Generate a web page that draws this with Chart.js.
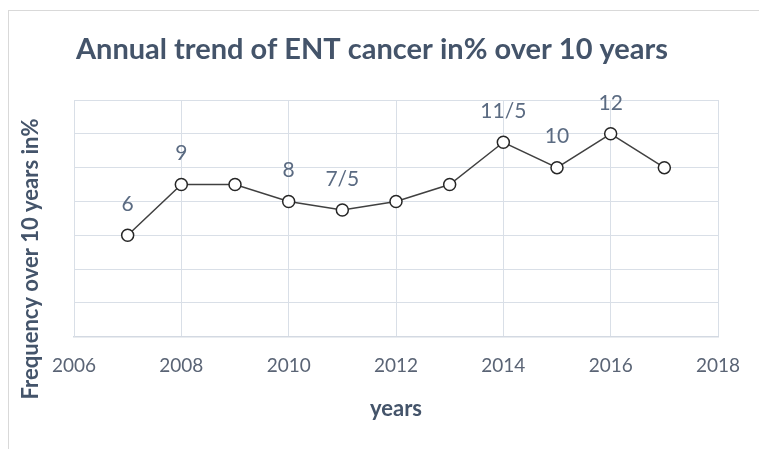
<!DOCTYPE html>
<html>
<head>
<meta charset="utf-8">
<script src="https://cdn.jsdelivr.net/npm/chart.js@4"></script>
<style>
    body { margin: 0; background: #fff; }
    #wrap { position: relative; width: 759px; height: 449px; overflow: hidden; }
    #frame { position: absolute; left: 8px; top: 10px; right: -2px; bottom: -2px; border: 1px solid #d9d9d9; }
    #chart { position: absolute; left: 0; top: 0; }
</style>
</head>
<body>
<div id="wrap">
    <div id="frame"></div>
    <canvas id="chart" width="759" height="449"></canvas>
</div>
<script>
    const years = [2007, 2008, 2009, 2010, 2011, 2012, 2013, 2014, 2015, 2016, 2017];
    const frequency = [6, 9, 9, 8, 7.5, 8, 9, 11.5, 10, 12, 10];
    // labels as printed on the chart ("/" used as decimal mark), blank = no label
    const pointLabels = ['6', '9', '', '8', '7/5', '', '', '11/5', '10', '12', ''];
    const xTicks = [2006, 2008, 2010, 2012, 2014, 2016, 2018];

    const chartTitle = 'Annual trend of ENT cancer in% over 10 years';
    const yTitle = 'Frequency over 10 years in%';
    const xTitle = 'years';

    const slate = '#44546a';

    // draws the chart title, the y axis title and the point labels
    const textPlugin = {
        id: 'textPlugin',
        afterDatasetsDraw: (chart) => {
            const ctx = chart.ctx;
            ctx.save();

            ctx.fillStyle = slate;
            ctx.font = 'bold 29px Lato';
            ctx.textAlign = 'center';
            ctx.textBaseline = 'alphabetic';
            ctx.fillText(chartTitle, 372, 59);

            ctx.save();
            ctx.translate(31, 259);
            ctx.rotate(-Math.PI / 2);
            ctx.font = 'bold 22px Lato';
            ctx.textBaseline = 'middle';
            ctx.fillText(yTitle, 0, 0);
            ctx.restore();

            ctx.fillStyle = '#5b6b82';
            ctx.font = '21px Lato';
            ctx.textBaseline = 'middle';
            const meta = chart.getDatasetMeta(0);
            meta.data.forEach((pt, i) => {
                if (pointLabels[i])
                    ctx.fillText(pointLabels[i], pt.x, pt.y - 31);
            });

            ctx.restore();
        }
    };

    const canvas = document.getElementById('chart');

    new Chart(canvas, {
        type: 'scatter',
        data: {
            datasets: [{
                data: years.map((y, i) => ({ x: y, y: frequency[i] })),
                showLine: true,
                borderColor: '#404040',
                borderWidth: 1.5,
                pointRadius: 6,
                pointHoverRadius: 6,
                pointBorderWidth: 1.5,
                pointBorderColor: '#262626',
                pointBackgroundColor: '#ffffff',
                clip: false
            }]
        },
        options: {
            responsive: false,
            devicePixelRatio: 1,
            animation: false,
            events: [],
            layout: { padding: { left: 74, top: 100, right: 41, bottom: 27 } },
            plugins: {
                legend: { display: false },
                tooltip: { enabled: false },
                title: { display: false }
            },
            scales: {
                x: {
                    type: 'linear',
                    min: 2006,
                    max: 2018,
                    afterBuildTicks: (axis) => {
                        axis.ticks = xTicks.map(v => ({ value: v }));
                    },
                    grid: { color: '#d9dfe7', lineWidth: 1, drawTicks: false },
                    border: { color: '#d3d9e2', width: 1.5 },
                    ticks: {
                        padding: 18,
                        color: '#5a6475',
                        font: { family: 'Lato', size: 19 },
                        callback: (v) => String(v)
                    },
                    title: {
                        display: true,
                        text: xTitle,
                        color: slate,
                        font: { family: 'Lato', size: 22, weight: 'bold' },
                        padding: { top: 0, bottom: 0 }
                    }
                },
                y: {
                    min: 0,
                    max: 14,
                    ticks: { stepSize: 2, display: false },
                    grid: { color: '#d9dfe7', lineWidth: 1, drawTicks: false },
                    border: { color: '#d9dfe7' }
                }
            }
        },
        plugins: [textPlugin]
    });
</script>
</body>
</html>
